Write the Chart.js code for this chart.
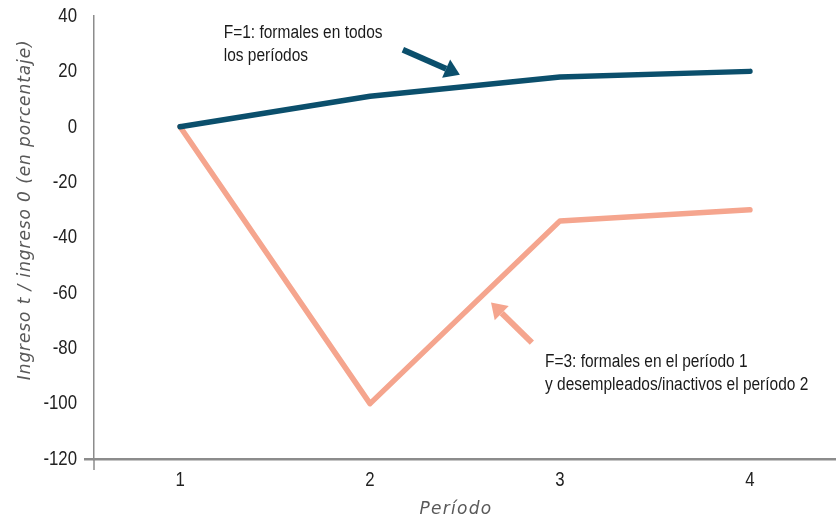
<!DOCTYPE html>
<html>
<head>
<meta charset="utf-8">
<script src="https://cdn.jsdelivr.net/npm/chart.js@4/dist/chart.umd.min.js"></script>
<style>
  html, body { margin: 0; padding: 0; background: #ffffff; }
  #wrap { width: 836px; height: 523px; position: relative; }
</style>
</head>
<body>
<div id="wrap"><canvas id="chart"></canvas></div>
<script>
// Períodos y trayectorias del ingreso relativo (en porcentaje)
const periods = [1, 2, 3, 4];
const formalesTodos = [0, 11, 18, 20];               // F=1
const formalesLuegoDesempleo = [0, -100, -34, -30];  // F=3
const yTicks = [-120, -100, -80, -60, -40, -20, 0, 20, 40];

const DARK = '#0b4f6c';
const SALMON = '#f5a58e';
const SANS = '"Liberation Sans", Arial, sans-serif';
const TITLE_FONT = '"DejaVu Sans", sans-serif';

// Anotaciones en coordenadas de datos: flechas y textos
const notes = [
  { color: DARK, from: [2.173, 27.8], to: [2.473, 18.8],
    lines: ['F=1: formales en todos', 'los períodos'], at: [1.23, 33.9] },
  { color: SALMON, from: [2.852, -78.0], to: [2.637, -63.5],
    lines: ['F=3: formales en el período 1', 'y desempleados/inactivos el período 2'], at: [2.921, -84.8] }
];

// texto estrecho (fuente escalada horizontalmente)
function narrowText(ctx, text, x, y, size, align, squeeze) {
  ctx.save();
  ctx.font = size + 'px ' + SANS;
  ctx.textAlign = align;
  ctx.textBaseline = 'middle';
  ctx.translate(x, y);
  ctx.scale(squeeze, 1);
  ctx.fillText(text, 0, 0);
  ctx.restore();
}

const annotate = {
  id: 'annotate',
  afterDraw(chart) {
    const { ctx, scales: { x, y }, chartArea } = chart;
    ctx.save();
    // prolongación del eje vertical bajo el eje horizontal
    ctx.strokeStyle = '#8c8c8c';
    ctx.lineWidth = 1.5;
    ctx.beginPath();
    ctx.moveTo(chartArea.left, chartArea.bottom);
    ctx.lineTo(chartArea.left, chartArea.bottom + 11);
    ctx.stroke();

    // etiquetas de los ejes
    ctx.fillStyle = '#222';
    y.ticks.forEach(t => narrowText(ctx, String(t.value), chartArea.left - 17, y.getPixelForValue(t.value), 21, 'right', 0.8));
    x.ticks.forEach(t => narrowText(ctx, String(t.value), x.getPixelForValue(t.value), chartArea.bottom + 21, 21, 'center', 0.8));

    // títulos de los ejes
    ctx.fillStyle = '#595959';
    ctx.font = 'italic 17px ' + TITLE_FONT;
    ctx.textAlign = 'center';
    ctx.textBaseline = 'middle';
    ctx.letterSpacing = '1.3px';
    ctx.fillText('Período', (chartArea.left + chartArea.right) / 2 - 9, chartArea.bottom + 51);
    ctx.letterSpacing = '0.9px';
    ctx.save();
    ctx.translate(26, y.getPixelForValue(-30));
    ctx.rotate(-Math.PI / 2);
    ctx.fillText('Ingreso t / ingreso 0 (en porcentaje)', 0, 0);
    ctx.restore();
    ctx.letterSpacing = '0px';

    // flechas y notas
    notes.forEach(n => {
      const x0 = x.getPixelForValue(n.from[0]), y0 = y.getPixelForValue(n.from[1]);
      const x1 = x.getPixelForValue(n.to[0]), y1 = y.getPixelForValue(n.to[1]);
      const ang = Math.atan2(y1 - y0, x1 - x0);
      const headLen = 15, headW = 10;
      const bx = x1 - headLen * Math.cos(ang), by = y1 - headLen * Math.sin(ang);
      ctx.strokeStyle = n.color;
      ctx.fillStyle = n.color;
      ctx.lineWidth = 6;
      ctx.lineCap = 'butt';
      ctx.beginPath();
      ctx.moveTo(x0, y0);
      ctx.lineTo(bx, by);
      ctx.stroke();
      ctx.beginPath();
      ctx.moveTo(x1, y1);
      ctx.lineTo(bx + headW * Math.sin(ang), by - headW * Math.cos(ang));
      ctx.lineTo(bx - headW * Math.sin(ang), by + headW * Math.cos(ang));
      ctx.closePath();
      ctx.fill();

      ctx.fillStyle = '#1a1a1a';
      const tx = x.getPixelForValue(n.at[0]), ty = y.getPixelForValue(n.at[1]);
      n.lines.forEach((t, i) => narrowText(ctx, t, tx, ty + i * 23, 18, 'left', 0.86));
    });
    ctx.restore();
  }
};

new Chart(document.getElementById('chart'), {
  type: 'line',
  data: {
    datasets: [
      {
        label: 'F=1',
        data: periods.map((p, i) => ({ x: p, y: formalesTodos[i] })),
        borderColor: DARK,
        borderWidth: 5.5,
        pointRadius: 0,
        tension: 0,
        borderCapStyle: 'round',
        borderJoinStyle: 'round'
      },
      {
        label: 'F=3',
        data: periods.map((p, i) => ({ x: p, y: formalesLuegoDesempleo[i] })),
        borderColor: SALMON,
        borderWidth: 5.5,
        pointRadius: 0,
        tension: 0,
        borderCapStyle: 'round',
        borderJoinStyle: 'round'
      }
    ]
  },
  options: {
    responsive: true,
    maintainAspectRatio: false,
    animation: false,
    layout: { padding: { top: 16, right: 0, left: 0, bottom: 0 } },
    plugins: { legend: { display: false }, tooltip: { enabled: false } },
    scales: {
      x: {
        type: 'linear',
        min: 0.547,
        max: 4.453,
        afterBuildTicks(scale) { scale.ticks = periods.map(v => ({ value: v })); },
        afterFit(scale) { scale.height = 64; },
        border: { display: true, color: '#8c8c8c', width: 2.5 },
        grid: { display: false },
        ticks: { display: false }
      },
      y: {
        min: -120,
        max: 40,
        afterBuildTicks(scale) { scale.ticks = yTicks.map(v => ({ value: v })); },
        afterFit(scale) { scale.width = 94; },
        border: { display: true, color: '#8c8c8c', width: 1.5 },
        grid: {
          drawOnChartArea: false,
          tickLength: 10,
          lineWidth: 2.5,
          color: c => (c.tick && c.tick.value === -120 ? '#8c8c8c' : 'rgba(0,0,0,0)')
        },
        ticks: { display: false }
      }
    }
  },
  plugins: [annotate]
});
</script>
</body>
</html>
